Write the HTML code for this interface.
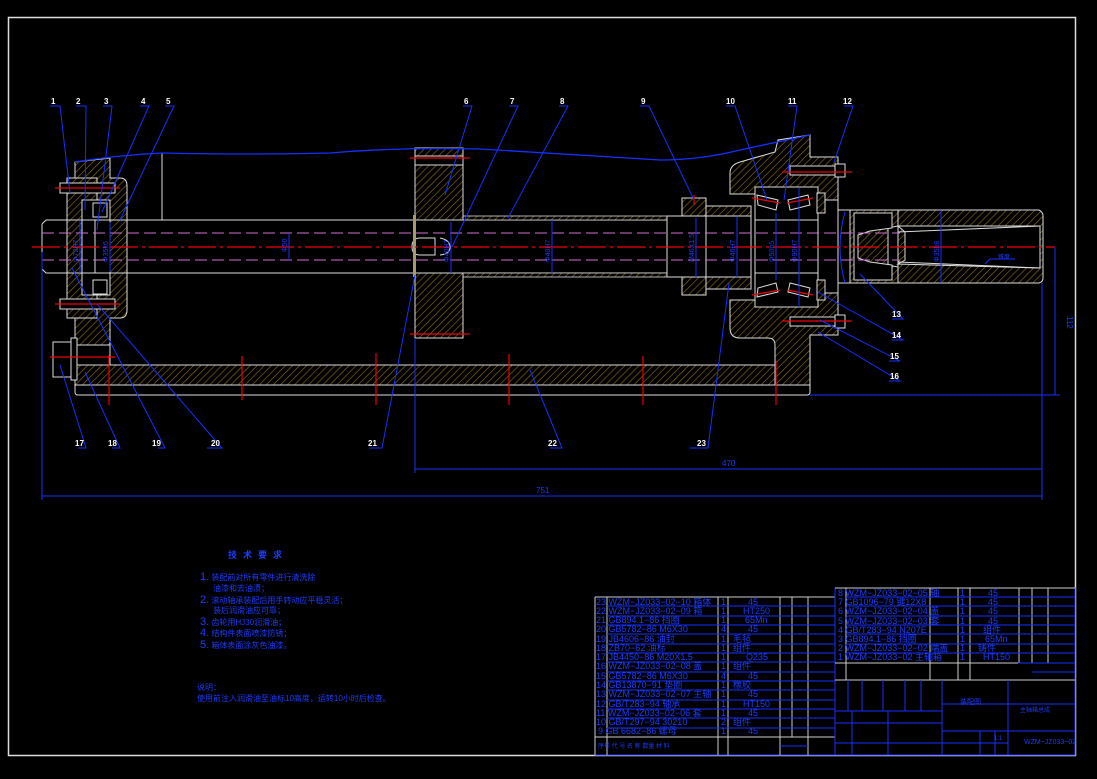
<!DOCTYPE html>
<html><head><meta charset="utf-8"><style>
html,body{margin:0;padding:0;background:#000;width:1097px;height:779px;overflow:hidden}
svg{display:block}
text{font-family:"Liberation Sans","Noto Sans CJK SC",sans-serif}
</style></head><body>
<svg width="1097" height="779" viewBox="0 0 1097 779" xmlns="http://www.w3.org/2000/svg">
<defs>
<pattern id="h" width="5" height="5" patternUnits="userSpaceOnUse" patternTransform="rotate(45)">
<rect width="5" height="5" fill="#000"/><line x1="0" y1="0" x2="0" y2="5" stroke="#8a6a18" stroke-width="1.3"/>
</pattern>
</defs>
<rect x="8.5" y="17.5" width="1067" height="738" fill="none" stroke="#ddd" stroke-width="1.5"/>

<rect x="75" y="365" width="735" height="20" fill="url(#h)" stroke="#ddd" stroke-width="1"/>
<path d="M75 385 L75 392 Q75 395 78 395 L807 395 Q810 395 810 392 L810 385" fill="none" stroke="#ddd"/>

<path d="M75 162 L110 158 L110 178 L120 178 Q127 178 127 186 L127 310 Q127 318 120 318 L110 318 L110 365 L75 365 Z" fill="url(#h)" stroke="#ddd"/>
<rect x="67" y="178" width="30" height="140" fill="url(#h)" stroke="#ddd"/>
<rect x="82" y="200" width="28" height="95" fill="#000" stroke="#ddd"/>
<rect x="93" y="203" width="14" height="14" fill="#000" stroke="#ddd"/>
<rect x="93" y="280" width="14" height="14" fill="#000" stroke="#ddd"/>
<rect x="60" y="183" width="55" height="10" fill="#000" stroke="#ddd"/>
<rect x="60" y="299" width="55" height="10" fill="#000" stroke="#ddd"/>
<line x1="55" y1="188" x2="120" y2="188" stroke="#e00" stroke-width="1.2"/>
<line x1="55" y1="304" x2="120" y2="304" stroke="#e00" stroke-width="1.2"/>
<rect x="53" y="342" width="18" height="35" fill="#000" stroke="#ddd"/>
<rect x="71" y="338" width="6" height="42" fill="#000" stroke="#ddd"/>
<rect x="77" y="345" width="33" height="20" fill="#000" stroke="#ddd"/>
<line x1="50" y1="357" x2="115" y2="357" stroke="#e00" stroke-width="1.2"/>

<path d="M46 220 L667 220 M46 273 L667 273 M42 224 L46 220 M42 224 L42 269 L46 273" fill="none" stroke="#ddd"/>
<line x1="162" y1="153" x2="162" y2="220" stroke="#ddd"/>
<rect x="95" y="220" width="32" height="53" fill="none" stroke="#ddd"/>
<rect x="463" y="216" width="204" height="4" fill="url(#h)" stroke="#ddd" stroke-width=".8"/>
<rect x="463" y="273" width="204" height="4" fill="url(#h)" stroke="#ddd" stroke-width=".8"/>
<rect x="415" y="148" width="48" height="8" fill="url(#h)" stroke="#ddd"/>
<rect x="415" y="156" width="48" height="9" fill="#000" stroke="#ddd"/>
<rect x="415" y="165" width="48" height="55" fill="url(#h)" stroke="#ddd"/>
<rect x="415" y="273" width="48" height="65" fill="url(#h)" stroke="#ddd"/>
<line x1="410" y1="158" x2="470" y2="158" stroke="#e00" stroke-width="1.2"/>
<line x1="410" y1="334" x2="470" y2="334" stroke="#e00" stroke-width="1.2"/>
<path d="M420 238 L435 238 L435 255 L420 255 Q412 255 412 247 Q412 238 420 238 Z M440 238 Q450 240 450 247 Q450 254 440 255" fill="none" stroke="#ddd"/>
<rect x="413" y="215" width="3" height="62" fill="#a89a70"/>

<rect x="682" y="198" width="24" height="18" fill="url(#h)" stroke="#ddd"/>
<rect x="682" y="277" width="24" height="18" fill="url(#h)" stroke="#ddd"/>
<rect x="667" y="216" width="40" height="61" fill="#000" stroke="#ddd"/>
<rect x="706" y="206" width="45" height="10" fill="url(#h)" stroke="#ddd"/>
<rect x="706" y="277" width="45" height="12" fill="url(#h)" stroke="#ddd"/>
<rect x="706" y="216" width="45" height="61" fill="#000" stroke="#ddd"/>
<path d="M730 173 Q730 165 740 162 L775 152 L778 140 L810 135 L810 157 L838 157 L838 335 L810 335 L810 385 L775 385 L775 345 Q775 338 768 338 L740 338 Q730 338 730 328 L730 300 L755 300 L755 307 L818 307 L818 187 L755 187 L755 194 L730 194 Z" fill="url(#h)" stroke="#ddd"/>
<rect x="755" y="187" width="63" height="33" fill="#000" stroke="#ddd"/>
<rect x="755" y="273" width="63" height="34" fill="#000" stroke="#ddd"/>
<path d="M757 195 L778 200 L776 210 L758 205 Z M788 200 L808 195 L810 205 L790 210 Z M757 297 L778 292 L776 283 L758 288 Z M788 292 L808 297 L810 288 L790 283 Z" fill="none" stroke="#ddd"/>
<line x1="752" y1="198" x2="780" y2="203" stroke="#e00" stroke-width="1.2"/>
<line x1="787" y1="203" x2="813" y2="198" stroke="#e00" stroke-width="1.2"/>
<line x1="752" y1="295" x2="780" y2="290" stroke="#e00" stroke-width="1.2"/>
<line x1="787" y1="290" x2="813" y2="295" stroke="#e00" stroke-width="1.2"/>
<rect x="755" y="220" width="63" height="53" fill="#000" stroke="#ddd"/>
<rect x="818" y="200" width="20" height="93" fill="#000" stroke="#ddd"/>
<rect x="817" y="193" width="8" height="20" fill="url(#h)" stroke="#ddd"/>
<rect x="817" y="280" width="8" height="20" fill="url(#h)" stroke="#ddd"/>
<rect x="790" y="166" width="45" height="9" fill="#000" stroke="#ddd"/>
<rect x="790" y="317" width="45" height="9" fill="#000" stroke="#ddd"/>
<rect x="835" y="164" width="10" height="13" fill="#000" stroke="#ddd"/>
<rect x="835" y="315" width="10" height="13" fill="#000" stroke="#ddd"/>
<line x1="782" y1="172" x2="852" y2="172" stroke="#e00" stroke-width="1.2"/>
<line x1="782" y1="321" x2="852" y2="321" stroke="#e00" stroke-width="1.2"/>
<rect x="838" y="210" width="12" height="73" fill="#000" stroke="#ddd"/>
<path d="M850 210 L898 210 L898 226 L888 228 L888 265 L898 267 L898 283 L850 283 Z" fill="url(#h)" stroke="#ddd"/>
<path d="M854 213 L854 280 L892 280 L892 265 L870 262 L858 258 L858 235 L870 231 L892 228 L892 213 Z" fill="#000" stroke="#ddd"/>
<path d="M898 210 L1039 210 Q1043 212 1043 216 L1043 278 Q1043 282 1039 283 L898 283 Z" fill="url(#h)" stroke="#ddd"/>
<path d="M898 226 L1040 226 L1040 268 L898 264 L905 260 L905 232 Z" fill="#000" stroke="#ddd"/>
<path d="M898 232 L1040 226 M898 262 L1040 268" stroke="#ddd" fill="none"/>

<line x1="32" y1="247" x2="1055" y2="247" stroke="#e00" stroke-width="1.3" stroke-dasharray="28 4 3 4"/>
<line x1="42" y1="233" x2="900" y2="233" stroke="#d070d0" stroke-width="1" stroke-dasharray="12 5"/>
<line x1="42" y1="260" x2="900" y2="260" stroke="#d070d0" stroke-width="1" stroke-dasharray="12 5"/>
<g stroke="#e00" stroke-width="1.2">
<line x1="109" y1="355" x2="109" y2="405"/><line x1="242" y1="356" x2="242" y2="400"/>
<line x1="376" y1="353" x2="376" y2="405"/><line x1="509" y1="354" x2="509" y2="405"/>
<line x1="643" y1="356" x2="643" y2="405"/><line x1="776" y1="361" x2="776" y2="405"/>
<line x1="694" y1="195" x2="694" y2="205"/>
</g>

<path d="M75 162 Q120 155 162 153 Q250 155 330 153 Q400 147 480 149 Q580 155 660 160 Q700 160 740 150 L810 135" fill="none" stroke="#1530ff" stroke-width="1.3"/>

<g stroke="#1530ff" stroke-width="1" fill="none">
<line x1="42" y1="252" x2="42" y2="500"/><line x1="415" y1="338" x2="415" y2="473"/><line x1="1042" y1="283" x2="1042" y2="500"/>
<line x1="42" y1="496" x2="1042" y2="496"/><line x1="415" y1="469" x2="1042" y2="469"/>
<line x1="810" y1="395" x2="1060" y2="395"/><line x1="1055" y1="247" x2="1055" y2="395"/>
<line x1="289" y1="233" x2="289" y2="260"/><line x1="110" y1="222" x2="110" y2="272"/>
<line x1="80" y1="220" x2="80" y2="273"/><line x1="451" y1="222" x2="451" y2="273"/><line x1="552" y1="220" x2="552" y2="273"/>
<line x1="696" y1="218" x2="696" y2="277"/><line x1="737" y1="217" x2="737" y2="277"/><line x1="776" y1="213" x2="776" y2="280"/><line x1="799" y1="188" x2="799" y2="307"/>
<line x1="941" y1="210" x2="941" y2="283"/><path d="M845 212 Q835 247 845 283"/>
</g>
<g fill="#1a3cff" font-size="8">
<text x="722" y="466">470</text>
<text x="536" y="493">751</text>
<text transform="translate(1067,316) rotate(90)">112</text>
<text transform="translate(287,252) rotate(-90)" font-size="7">Φ50</text>
<text transform="translate(78,262) rotate(-90)" font-size="7">Φ72H7</text>
<text transform="translate(108,262) rotate(-90)" font-size="7">Φ35k6</text>
<text transform="translate(449,262) rotate(-90)" font-size="7">Φ40H7</text>
<text transform="translate(550,262) rotate(-90)" font-size="7">Φ40H7</text>
<text transform="translate(694,262) rotate(-90)" font-size="7">M46X1.5</text>
<text transform="translate(735,262) rotate(-90)" font-size="7">Φ46H7</text>
<text transform="translate(774,262) rotate(-90)" font-size="7">Φ50n5</text>
<text transform="translate(797,262) rotate(-90)" font-size="7">Φ90H7</text>
<text transform="translate(939,262) rotate(-90)" font-size="7">Φ35h8</text>
<text x="998" y="259" font-size="6">锥度</text>
</g>
<path d="M985 264 L990 259 L1015 259" stroke="#1530ff" fill="none"/>

<g stroke="#1530ff" stroke-width="1" fill="none">
<path d="M50 106 L60 106 L70 193"/><path d="M76 106 L86 106 L85 210"/><path d="M103 106 L112 106 L97 230"/>
<path d="M140 106 L149 106 L102 212"/><path d="M165 106 L174 106 L120 220"/><path d="M463 106 L472 106 L445 195"/>
<path d="M509 106 L518 106 L452 247"/><path d="M559 106 L568 106 L508 218"/><path d="M640 106 L649 106 L694 200"/>
<path d="M726 106 L735 106 L767 200"/><path d="M788 106 L797 106 L784 200"/><path d="M844 106 L853 106 L834 162"/>
<path d="M78 448 L86 448 L60 365"/><path d="M112 448 L120 448 L85 372"/><path d="M158 448 L165 448 L72 268"/>
<path d="M207 448 L222 448 L97 304"/><path d="M369 448 L382 448 L415 275"/><path d="M550 448 L562 448 L530 370"/>
<path d="M690 448 L708 448 L729 283"/>
<path d="M892 319 L903 319 L860 274"/><path d="M892 340 L903 340 L818 292"/><path d="M889 361 L900 361 L820 320"/><path d="M889 381 L900 381 L818 332"/>
</g>
<g fill="#fff" font-size="8" font-weight="bold" font-family="Liberation Mono">
<text x="51" y="104">1</text><text x="76" y="104">2</text><text x="104" y="104">3</text><text x="141" y="104">4</text><text x="166" y="104">5</text>
<text x="464" y="104">6</text><text x="510" y="104">7</text><text x="560" y="104">8</text><text x="641" y="104">9</text>
<text x="726" y="104">10</text><text x="788" y="104">11</text><text x="843" y="104">12</text>
<text x="75" y="446">17</text><text x="108" y="446">18</text><text x="152" y="446">19</text><text x="211" y="446">20</text>
<text x="368" y="446">21</text><text x="548" y="446">22</text><text x="697" y="446">23</text>
<text x="892" y="317">13</text><text x="892" y="338">14</text><text x="890" y="359">15</text><text x="890" y="379">16</text>
</g>

<g fill="#1a3cff" font-size="8">
<text x="228" y="558" font-size="9" font-weight="bold" letter-spacing="6">技术要求</text>
<text x="200" y="580"><tspan font-size="11">1.</tspan> 装配前对所有零件进行清洗除</text>
<text x="213" y="591">油漆和去油渍；</text>
<text x="200" y="603"><tspan font-size="11">2.</tspan> 滚动轴承装配后用手转动应平稳灵活；</text>
<text x="213" y="613">装后润滑油应可靠；</text>
<text x="200" y="625"><tspan font-size="11">3.</tspan> 齿轮用HJ30润滑油；</text>
<text x="200" y="636"><tspan font-size="11">4.</tspan> 结构件表面喷漆防锈；</text>
<text x="200" y="648"><tspan font-size="11">5.</tspan> 箱体表面涂灰色油漆。</text>
<text x="197" y="690">说明：</text>
<text x="197" y="701">使用前注入润滑油至油标10高度，运转10小时后检查。</text>
</g>

<rect x="595" y="597" width="240" height="158" fill="none" stroke="#1530ff"/>
<g stroke="#ccc" stroke-width="1">
<line x1="595" y1="597" x2="835" y2="597"/>
<line x1="595" y1="597" x2="595" y2="755"/><line x1="607" y1="597" x2="607" y2="755"/><line x1="718" y1="597" x2="718" y2="755"/>
<line x1="728" y1="597" x2="728" y2="755"/><line x1="780" y1="597" x2="780" y2="755"/><line x1="792" y1="597" x2="792" y2="737"/>
<line x1="808" y1="597" x2="808" y2="755"/><line x1="595" y1="737" x2="835" y2="737"/>
<line x1="835" y1="588" x2="835" y2="755"/>
</g>
<g stroke="#1530ff" stroke-width="1">
<line x1="607" y1="606" x2="835" y2="606"/><line x1="607" y1="616" x2="835" y2="616"/><line x1="607" y1="625" x2="835" y2="625"/>
<line x1="607" y1="634" x2="835" y2="634"/><line x1="607" y1="644" x2="835" y2="644"/><line x1="607" y1="653" x2="835" y2="653"/>
<line x1="607" y1="662" x2="835" y2="662"/><line x1="607" y1="672" x2="835" y2="672"/><line x1="607" y1="681" x2="835" y2="681"/>
<line x1="607" y1="690" x2="835" y2="690"/><line x1="607" y1="700" x2="835" y2="700"/><line x1="607" y1="709" x2="835" y2="709"/>
<line x1="607" y1="718" x2="835" y2="718"/><line x1="607" y1="728" x2="835" y2="728"/>
<line x1="780" y1="746" x2="808" y2="746"/>
</g>
<g fill="#1a3cff" font-size="9">
<text x="596" y="605">23 WZM−JZ033−02−10 箱体</text><text x="721" y="605">1</text><text x="748" y="605">45</text>
<text x="596" y="614">22 WZM−JZ033−02−09 箱</text><text x="721" y="614">1</text><text x="743" y="614">HT250</text>
<text x="596" y="623">21  GB894.1−86  挡圈</text><text x="721" y="623">1</text><text x="745" y="623">65Mn</text>
<text x="596" y="632">20  GB5782−86  M6X30</text><text x="721" y="632">4</text><text x="748" y="632">45</text>
<text x="596" y="642">19  JB4606−86  油封</text><text x="721" y="642">1</text><text x="733" y="642">毛毡</text>
<text x="596" y="651">18  ZB70−62  油标</text><text x="721" y="651">1</text><text x="733" y="651">组件</text>
<text x="596" y="660">17  JB4450−86 M20X1.5</text><text x="721" y="660">1</text><text x="746" y="660">Q235</text>
<text x="596" y="669">16 WZM−JZ033−02−08 盖</text><text x="721" y="669">1</text><text x="733" y="669">组件</text>
<text x="596" y="679">15  GB5782−86  M6X30</text><text x="721" y="679">4</text><text x="748" y="679">45</text>
<text x="596" y="688">14  GB13870−91 垫圈</text><text x="721" y="688">1</text><text x="733" y="688">橡胶</text>
<text x="596" y="697">13 WZM−JZ033−02−07 主轴</text><text x="721" y="697">1</text><text x="748" y="697">45</text>
<text x="596" y="707">12  GB/T283−94 轴承</text><text x="721" y="707">1</text><text x="743" y="707">HT150</text>
<text x="596" y="716">11 WZM−JZ033−02−06 套</text><text x="721" y="716">1</text><text x="748" y="716">45</text>
<text x="596" y="725">10  GB/T297−94 30210</text><text x="721" y="725">2</text><text x="733" y="725">组件</text>
<text x="598" y="734">9   GB 6682−86 螺母</text><text x="721" y="734">1</text><text x="748" y="734">45</text>
<text x="598" y="748" font-size="6">序号   代 号    名 称   数量  材 料</text>
</g>

<rect x="835" y="588" width="240" height="167" fill="none" stroke="#1530ff"/>
<g stroke="#ccc" stroke-width="1">
<line x1="835" y1="588" x2="1075" y2="588"/><line x1="846" y1="588" x2="846" y2="680"/><line x1="930" y1="588" x2="930" y2="680"/>
<line x1="958" y1="588" x2="958" y2="680"/><line x1="970" y1="588" x2="970" y2="680"/><line x1="1019" y1="588" x2="1019" y2="663"/>
<line x1="1032" y1="588" x2="1032" y2="663"/><line x1="1048" y1="588" x2="1048" y2="663"/><line x1="835" y1="663" x2="1075" y2="663"/>
<line x1="835" y1="680" x2="1075" y2="680"/>
</g>
<g stroke="#1530ff" stroke-width="1">
<line x1="846" y1="597" x2="1075" y2="597"/><line x1="846" y1="606" x2="1075" y2="606"/><line x1="846" y1="616" x2="1075" y2="616"/>
<line x1="846" y1="625" x2="1075" y2="625"/><line x1="846" y1="634" x2="1075" y2="634"/><line x1="846" y1="644" x2="1075" y2="644"/>
<line x1="846" y1="653" x2="1075" y2="653"/>
<line x1="942" y1="680" x2="942" y2="755"/><line x1="1008" y1="680" x2="1008" y2="755"/><line x1="942" y1="704" x2="1008" y2="704"/>
<line x1="942" y1="731" x2="1075" y2="731"/><line x1="1008" y1="704" x2="1075" y2="704"/><line x1="942" y1="743" x2="1008" y2="743"/>
<line x1="835" y1="711" x2="942" y2="711"/><line x1="835" y1="723" x2="942" y2="723"/><line x1="835" y1="743" x2="942" y2="743"/>
<line x1="848" y1="680" x2="848" y2="711"/><line x1="862" y1="680" x2="862" y2="711"/><line x1="883" y1="680" x2="883" y2="711"/>
<line x1="905" y1="680" x2="905" y2="711"/><line x1="921" y1="680" x2="921" y2="711"/><line x1="852" y1="711" x2="852" y2="755"/><line x1="888" y1="711" x2="888" y2="755"/>
<line x1="980" y1="731" x2="980" y2="755"/><line x1="995" y1="731" x2="995" y2="755"/><line x1="1018" y1="663" x2="1075" y2="663"/><line x1="1032" y1="672" x2="1075" y2="672"/>
</g>
<g fill="#1a3cff" font-size="9">
<text x="838" y="596">8 WZM−JZ033−02−05 轴</text><text x="960" y="596">1</text><text x="988" y="596">45</text>
<text x="838" y="605">7  GB1096−79  键12X8</text><text x="960" y="605">1</text><text x="988" y="605">45</text>
<text x="838" y="614">6 WZM−JZ033−02−04 盖</text><text x="960" y="614">1</text><text x="988" y="614">45</text>
<text x="838" y="624">5 WZM−JZ033−02−03 套</text><text x="960" y="624">1</text><text x="988" y="624">45</text>
<text x="838" y="633">4 GB/T283−94 N207E</text><text x="960" y="633">1</text><text x="983" y="633">组件</text>
<text x="838" y="642">3 GB894.1−86 挡圈</text><text x="960" y="642">1</text><text x="985" y="642">65Mn</text>
<text x="838" y="651">2 WZM−JZ033−02−02 端盖</text><text x="960" y="651">1</text><text x="978" y="651">铸件</text>
<text x="838" y="660">1 WZM−JZ033−02 主轴箱</text><text x="960" y="660">1</text><text x="983" y="660">HT150</text>
<text x="960" y="704" font-size="7">装配图</text>
<text x="1020" y="712" font-size="6">主轴箱总成</text>
<text x="1024" y="744" font-size="7">WZM−JZ033−02</text>
<text x="994" y="740" font-size="6">1:1</text>
</g>
</svg>
</body></html>
